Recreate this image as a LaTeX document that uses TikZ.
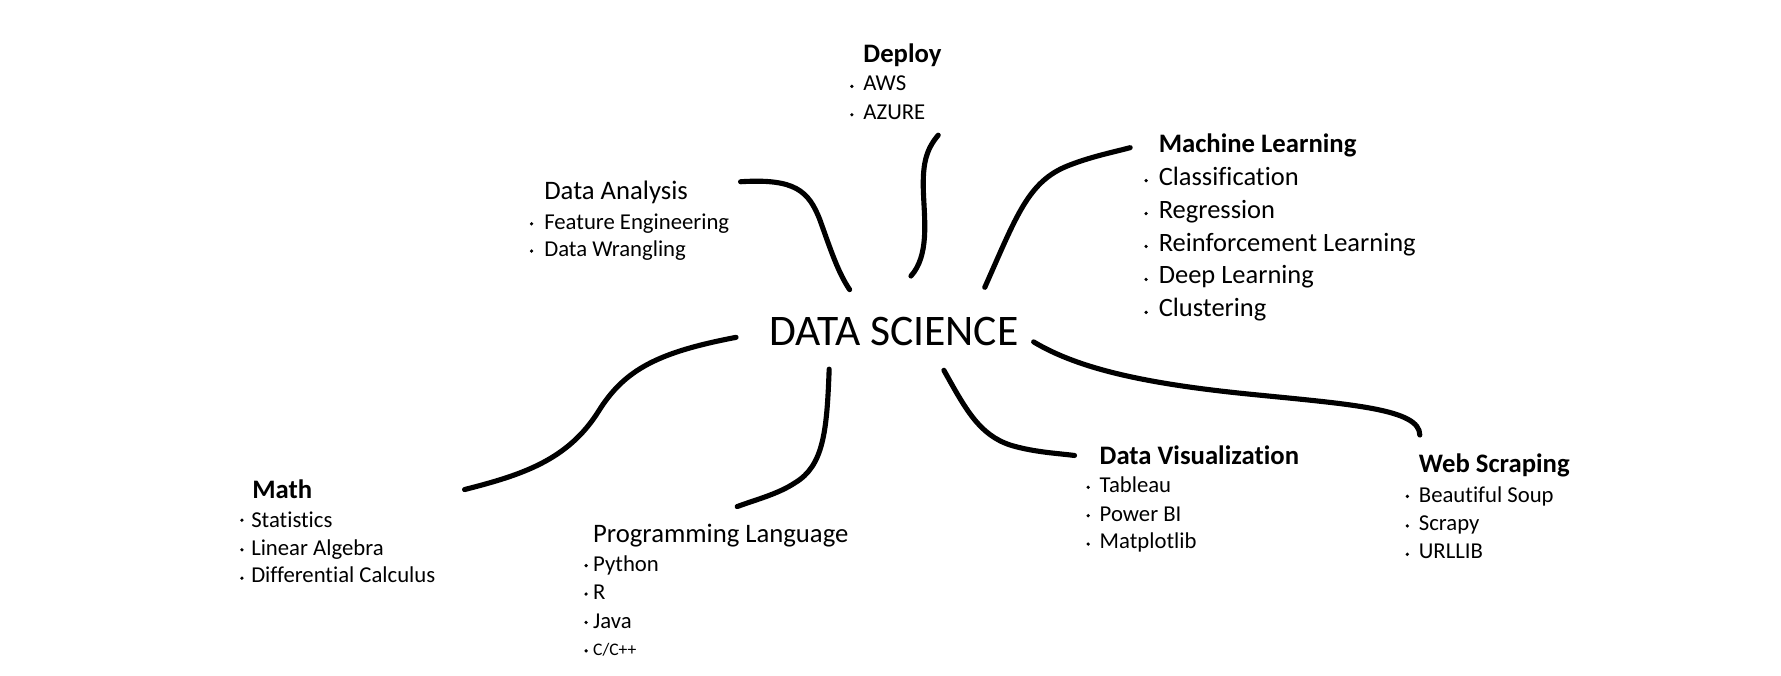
\documentclass[tikz,border=0pt]{standalone}
\usepackage{fontspec}
\setmainfont{Carlito}[Ligatures=NoCommon]
\begin{document}
\begin{tikzpicture}[x=1pt,y=-1pt,
  conn/.style={line width=4.5pt, line cap=round, line join=round},
  title/.style={anchor=base west, inner sep=0pt, font=\fontsize{38.4}{44}\selectfont},
  head/.style={anchor=base west, inner sep=0pt, font=\bfseries\fontsize{23.5}{28}\selectfont},
  sub/.style={anchor=base west, inner sep=0pt, font=\fontsize{23.5}{28}\selectfont},
  item/.style={anchor=base west, inner sep=0pt, font=\fontsize{20}{24}\selectfont},
  mlitem/.style={anchor=base west, inner sep=0pt, font=\fontsize{23.3}{28}\selectfont},
  small/.style={anchor=base west, inner sep=0pt, font=\fontsize{15.5}{18}\selectfont},
  bul/.style={circle, fill=black, inner sep=0pt, minimum size=3.2pt}]
\useasboundingbox (0,0) rectangle (1568,595);

% centre
\node[title] (ds) at (677,304) {DATA SCIENCE};

% Deploy
\node[head] (dep) at (760,55) {Deploy};
\node[item] (dep1) at (760,80) {AWS};
\node[item] (dep2) at (760,105) {AZURE};
\node[bul] (bdep1) at (750,76) {};
\node[bul] (bdep2) at (750,101) {};

% Machine Learning
\node[head] (ml) at (1020,134) {Machine Learning};
\node[mlitem] (ml1) at (1020,163) {Classification};
\node[mlitem] (ml2) at (1020,192) {Regression};
\node[mlitem] (ml3) at (1020,221) {Reinforcement Learning};
\node[mlitem] (ml4) at (1020,250) {Deep Learning};
\node[mlitem] (ml5) at (1020,279) {Clustering};
\node[bul] (bml1) at (1009,159) {};
\node[bul] (bml2) at (1009,188) {};
\node[bul] (bml3) at (1009,217) {};
\node[bul] (bml4) at (1009,246) {};
\node[bul] (bml5) at (1009,275) {};

% Data Analysis
\node[sub] (da) at (479,176) {Data Analysis};
\node[item] (da1) at (479,202) {Feature Engineering};
\node[item] (da2) at (479,226) {Data Wrangling};
\node[bul] (bda1) at (468,197) {};
\node[bul] (bda2) at (468,221) {};

% Math
\node[head] (ma) at (222,439) {Math};
\node[item] (ma1) at (221,464) {Statistics};
\node[item] (ma2) at (221,489) {Linear Algebra};
\node[item] (ma3) at (221,513) {Differential Calculus};
\node[bul] (bma1) at (213,458) {};
\node[bul] (bma2) at (213,484) {};
\node[bul] (bma3) at (213,509) {};

% Programming Language
\node[sub] (pl) at (522,478) {Programming Language};
\node[item] (pl1) at (522,503) {Python};
\node[item] (pl2) at (522,528) {R};
\node[item] (pl3) at (522,553) {Java};
\node[small] (pl4) at (522,577) {C/C++};
\node[bul] (bpl1) at (516,498) {};
\node[bul] (bpl2) at (516,523) {};
\node[bul] (bpl3) at (516,548) {};
\node[bul] (bpl4) at (516,573) {};

% Data Visualization
\node[head] (dv) at (968,409) {Data Visualization};
\node[item] (dv1) at (968,434) {Tableau};
\node[item] (dv2) at (968,459) {Power BI};
\node[item] (dv3) at (968,483) {Matplotlib};
\node[bul] (bdv1) at (958,429) {};
\node[bul] (bdv2) at (958,454) {};
\node[bul] (bdv3) at (958,479) {};

% Web Scraping
\node[head] (ws) at (1249,416) {Web Scraping};
\node[item] (ws1) at (1249,442) {Beautiful Soup};
\node[item] (ws2) at (1249,467) {Scrapy};
\node[item] (ws3) at (1249,492) {URLLIB};
\node[bul] (bws1) at (1239,437) {};
\node[bul] (bws2) at (1239,463) {};
\node[bul] (bws3) at (1239,488) {};

% connector end points
\coordinate (cda-a) at (748,255);  \coordinate (cda-b) at (652,160);
\coordinate (cdep-a) at (802,243); \coordinate (cdep-b) at (826,119);
\coordinate (cml-a) at (867,253);  \coordinate (cml-b) at (995,130);
\coordinate (cma-a) at (648,297);  \coordinate (cma-b) at (409,431);
\coordinate (cpl-a) at (730,325);  \coordinate (cpl-b) at (649,446);
\coordinate (cdv-a) at (831,326);  \coordinate (cdv-b) at (946,401);
\coordinate (cws-a) at (910,301);  \coordinate (cws-b) at (1250,383);

% connectors
\draw[conn] (cda-b) .. controls (700,157) and (712,168) .. (722,194)
                    .. controls (732,222) and (738,240) .. (cda-a);
\draw[conn] (cdep-b) .. controls (815,132) and (812,145) .. (813,170)
                     .. controls (814,195) and (818,225) .. (cdep-a);
\draw[conn] (cml-a) .. controls (895,190) and (905,160) .. (940,146)
                    .. controls (960,138) and (980,134) .. (cml-b);
\draw[conn] (cma-a) .. controls (580,310) and (550,325) .. (527,362)
                    .. controls (500,405) and (460,418) .. (cma-b);
\draw[conn] (cpl-a) .. controls (728,380) and (725,410) .. (700,425)
                    .. controls (685,435) and (665,440) .. (cpl-b);
\draw[conn] (cdv-a) .. controls (850,360) and (862,383) .. (890,392)
                    .. controls (910,398) and (930,399) .. (cdv-b);
\draw[conn] (cws-a) .. controls (950,325) and (1010,338) .. (1100,347)
                    .. controls (1190,356) and (1250,360) .. (cws-b);
\end{tikzpicture}
\end{document}
